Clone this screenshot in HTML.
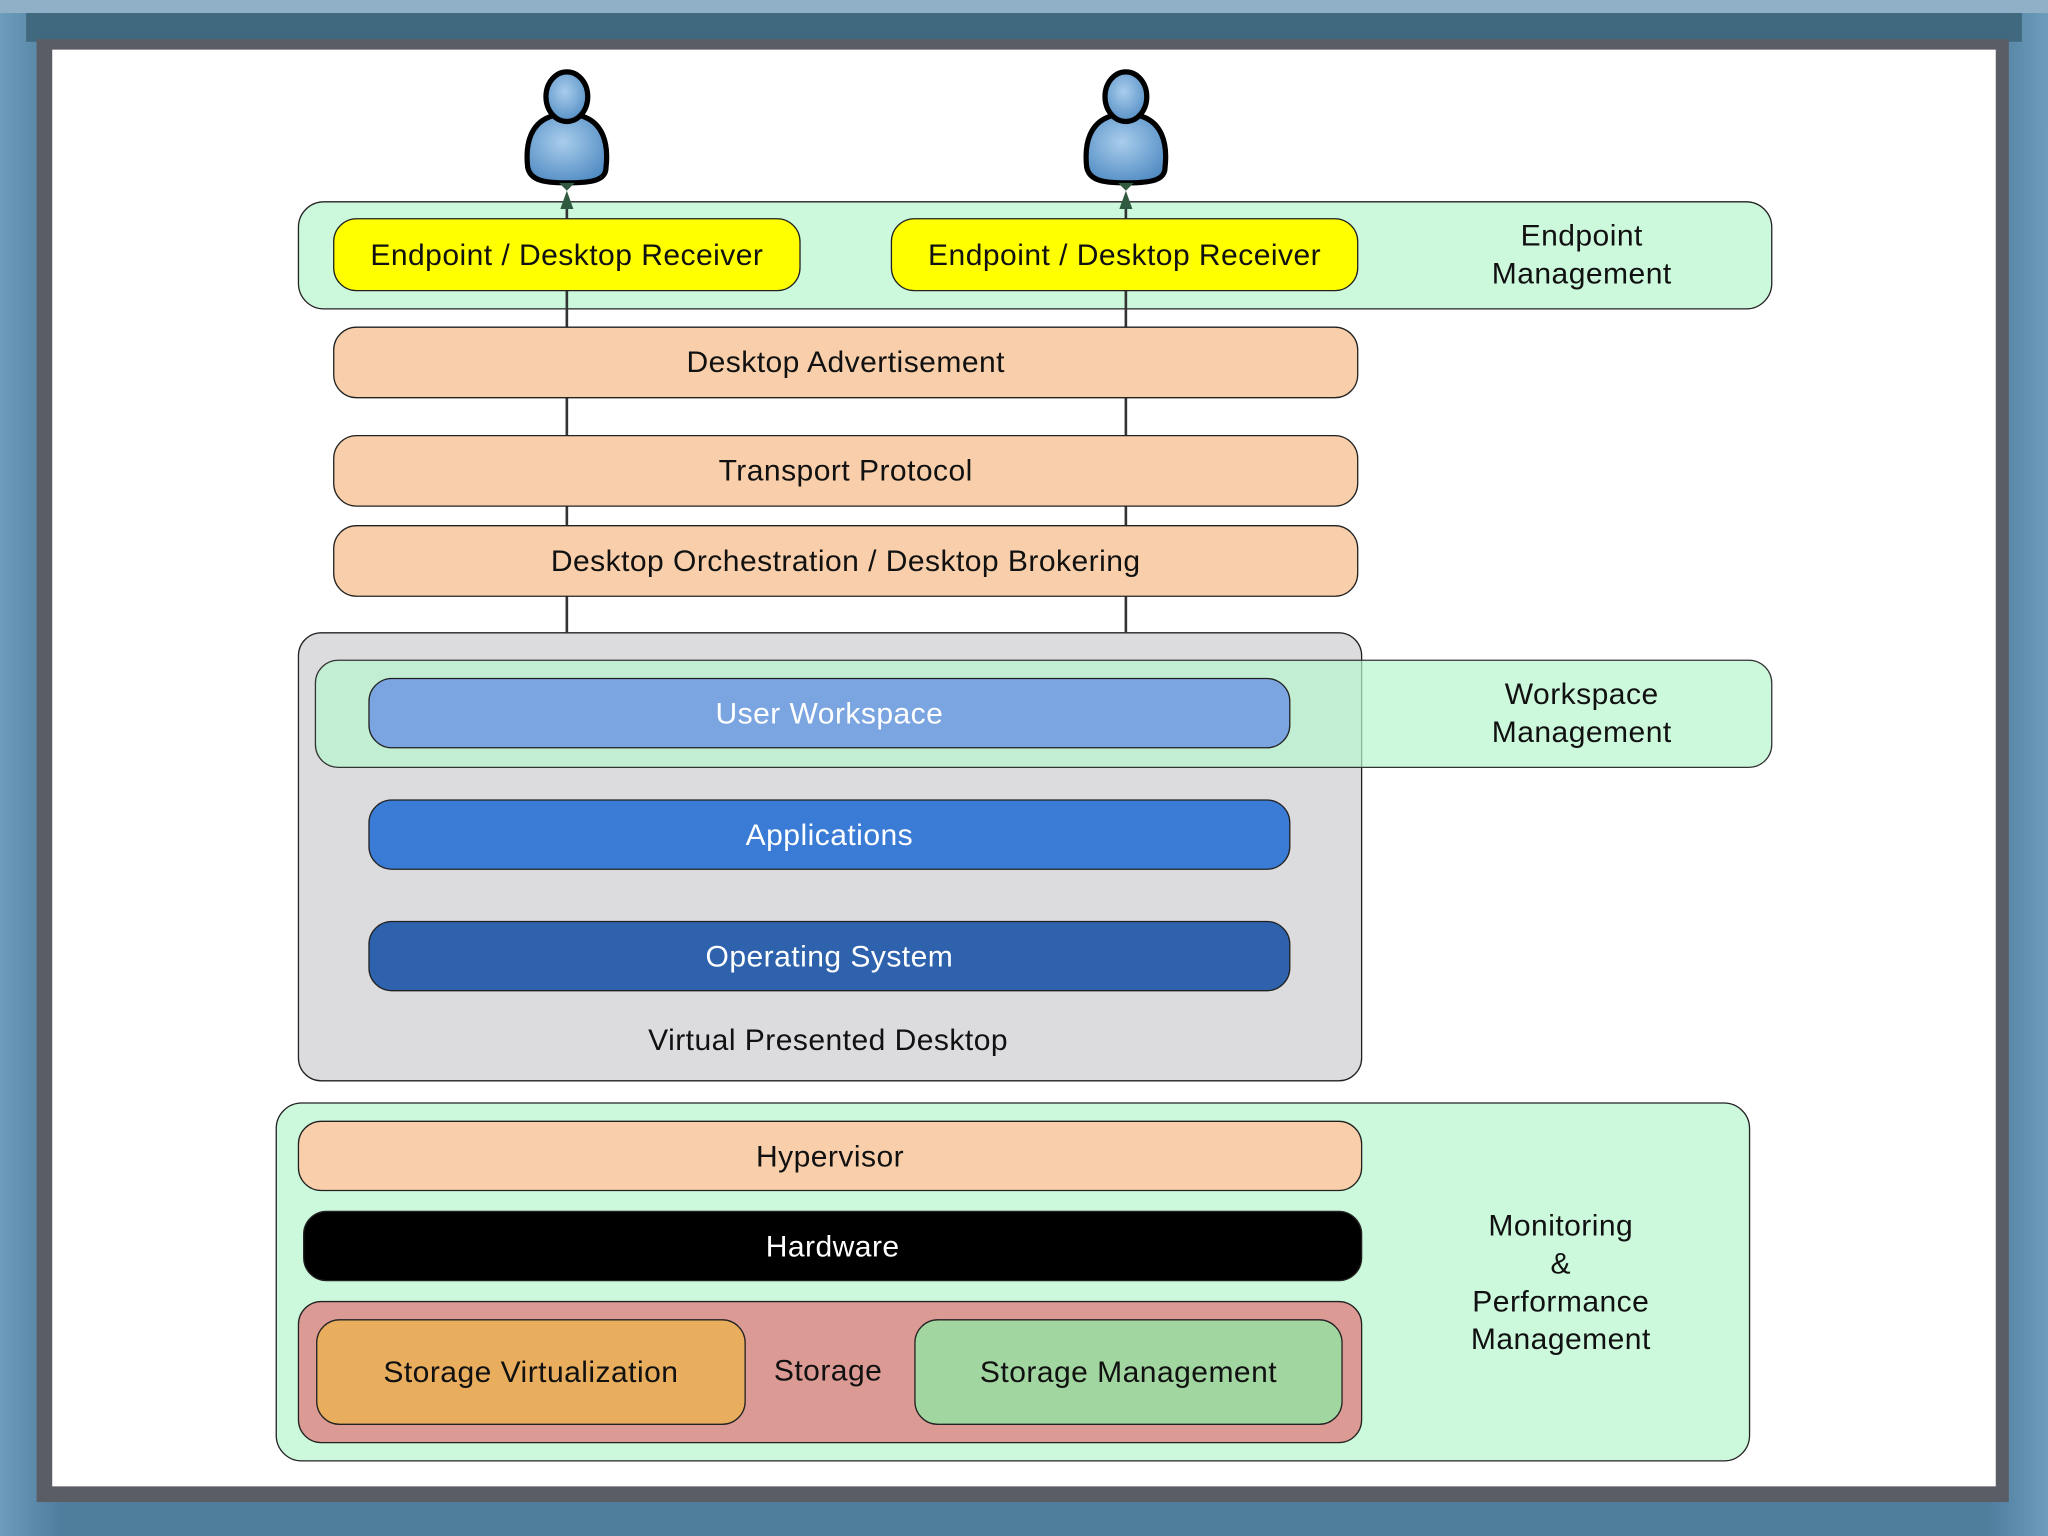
<!DOCTYPE html>
<html><head><meta charset="utf-8"><style>
html,body{margin:0;padding:0;width:2048px;height:1536px;overflow:hidden;background:#5f8cab}
#s{position:absolute;left:0;top:0;width:1568px;height:1176px;transform:scale(1.30612);transform-origin:0 0;font-family:"Liberation Sans",sans-serif;font-size:23px;letter-spacing:0.35px;color:#111}
.b{position:absolute;box-sizing:border-box;border:1.5px solid #222;border-radius:18px;display:flex;align-items:center;justify-content:center;text-align:center;line-height:29px}
.l{position:absolute;background:#333;width:1.5px}
.t{position:absolute;text-align:center;line-height:29px}
</style></head><body>
<div id="s">
<div style="position:absolute;left:0;top:0;width:1568px;height:1176px;background:linear-gradient(90deg,#6d9cbc,#4f7d9c 3%,#4f7d9c 97%,#6d9cbc)"></div>
<div style="position:absolute;left:0;top:0;width:1568px;height:10px;background:#8fb0c6"></div>
<div style="position:absolute;left:20px;top:10px;width:1528px;height:22px;background:#40697f"></div>
<div style="position:absolute;left:28px;top:30px;width:1510px;height:1120px;background:#5a5d66"></div>
<div style="position:absolute;left:40px;top:38px;width:1488px;height:1100px;background:#fff"></div>

<div class="b" style="left:228px;top:154px;width:1129px;height:83px;background:#ccf8dc;border-radius:20px"></div>
<div class="t" style="left:1111px;top:166px;width:200px">Endpoint<br>Management</div>

<div class="l" style="left:433px;top:150px;height:334px"></div>
<div class="l" style="left:861px;top:150px;height:334px"></div>

<div class="b" style="left:255px;top:167px;width:358px;height:56px;background:#ffff00">Endpoint / Desktop Receiver</div>
<div class="b" style="left:682px;top:167px;width:358px;height:56px;background:#ffff00">Endpoint / Desktop Receiver</div>

<div class="b" style="left:255px;top:250px;width:785px;height:55px;background:#f8cfaa">Desktop Advertisement</div>
<div class="b" style="left:255px;top:333px;width:785px;height:55px;background:#f8cfaa">Transport Protocol</div>
<div class="b" style="left:255px;top:402px;width:785px;height:55px;background:#f8cfaa">Desktop Orchestration / Desktop Brokering</div>

<div class="b" style="left:228px;top:484px;width:815px;height:344px;background:#dcdcdf"></div>
<div class="b" style="left:241px;top:505px;width:1116px;height:83px;background:rgba(182,245,205,0.7);border-color:#333"></div>
<div class="t" style="left:1111px;top:517px;width:200px">Workspace<br>Management</div>
<div class="b" style="left:282px;top:519px;width:706px;height:54px;background:#7ba5e0;color:#fff">User Workspace</div>
<div class="b" style="left:282px;top:612px;width:706px;height:54px;background:#3a7bd5;color:#fff">Applications</div>
<div class="b" style="left:282px;top:705px;width:706px;height:54px;background:#2f62ad;color:#fff">Operating System</div>
<div class="t" style="left:434px;top:782px;width:400px">Virtual Presented Desktop</div>

<div class="b" style="left:211px;top:844px;width:1129px;height:275px;background:#ccf8dc;border-radius:20px"></div>
<div class="t" style="left:1095px;top:924px;width:200px">Monitoring<br>&amp;<br>Performance<br>Management</div>
<div class="b" style="left:228px;top:858px;width:815px;height:54px;background:#f8cfaa">Hypervisor</div>
<div class="b" style="left:232px;top:927px;width:811px;height:54px;background:#000;color:#fff">Hardware</div>
<div class="b" style="left:228px;top:996px;width:815px;height:109px;background:#dc9a94"></div>
<div class="b" style="left:242px;top:1010px;width:329px;height:81px;background:#e9ad5e">Storage Virtualization</div>
<div class="b" style="left:700px;top:1010px;width:328px;height:81px;background:#a2d6a0">Storage Management</div>
<div class="t" style="left:574px;top:1035px;width:120px">Storage</div>

<svg style="position:absolute;left:0;top:0" width="1568" height="1176">
<defs><radialGradient id="g" cx="0.45" cy="0.4" r="0.7"><stop offset="0" stop-color="#a9cdec"/><stop offset="1" stop-color="#4a87c0"/></radialGradient></defs>
<g id="p" transform="translate(434,0)">
<path d="M-8,88 C-28,92 -32,110 -30,128 C-28,138 -18,140 0,140 C20,140 30,138 30,128 C32,110 28,92 8,88 Z" fill="url(#g)" stroke="#000" stroke-width="4"/>
<ellipse cx="0" cy="74" rx="16" ry="19" fill="url(#g)" stroke="#000" stroke-width="4"/>
<path d="M-6,140 L0,146 L6,140 Z M-5,160 L0,146 L5,160 Z" fill="#2f5a40"/>
</g>
<use href="#p" transform="translate(428,0)"/>
</svg>
</div>
</body></html>
